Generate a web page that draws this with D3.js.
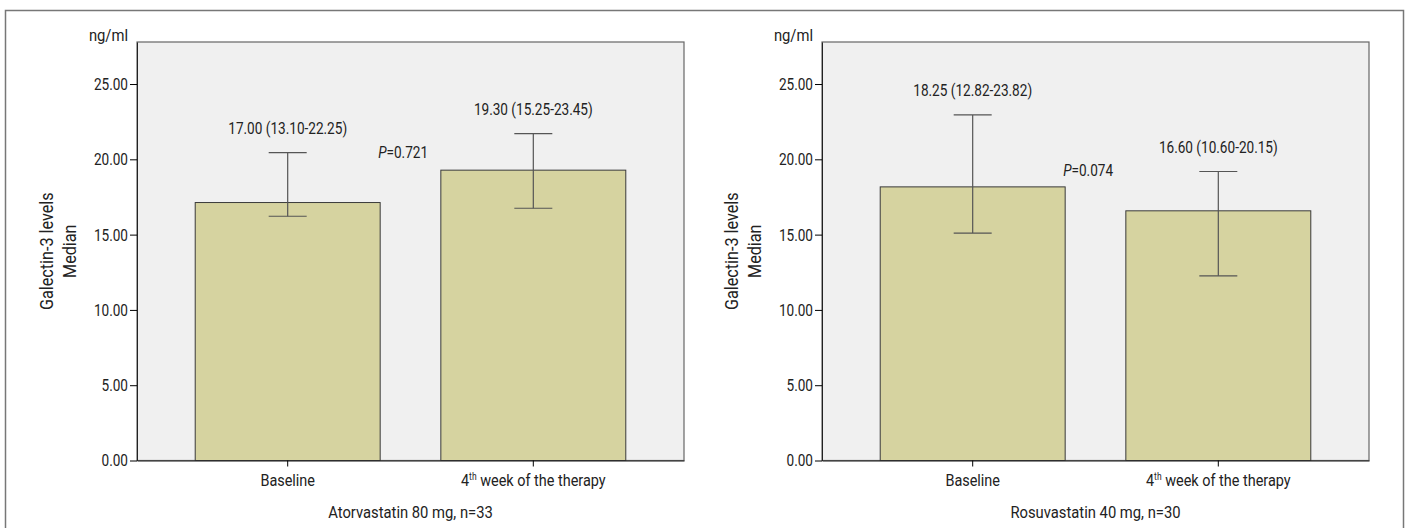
<!DOCTYPE html>
<html>
<head>
<meta charset="utf-8">
<script src="https://cdn.jsdelivr.net/npm/d3@7"></script>
<style>
  body { margin: 0; background: #fff; }
  svg text { font-family: "Roboto", "Liberation Sans", sans-serif; fill: #222; }
</style>
</head>
<body>
<div id="chart"></div>
<script>
// Data
const categories = ["Baseline", "4th week of the therapy"];
const yTicks = [0, 5, 10, 15, 20, 25];

const atorMedians = [17.13, 19.28];
const atorLow = [16.22, 16.75];
const atorHigh = [20.45, 21.71];
const atorLabels = ["17.00 (13.10-22.25)", "19.30 (15.25-23.45)"];
const atorP = "0.721";
const atorPAt = 20.1;
const atorTitle = "Atorvastatin 80 mg, n=33";

const rosuMedians = [18.17, 16.58];
const rosuLow = [15.10, 12.26];
const rosuHigh = [22.95, 19.19];
const rosuLabels = ["18.25 (12.82-23.82)", "16.60 (10.60-20.15)"];
const rosuP = "0.074";
const rosuPAt = 18.9;
const rosuTitle = "Rosuvastatin 40 mg, n=30";

const W = 1409, H = 528;
const plotTop = 42, plotBottom = 460.5, plotWidth = 547;
const yMax = 27.79;
const fs = 17;        // font size
const numSqueeze = 0.8;  // condensed look of the original type (numbers)
const wordSqueeze = 0.87; // words

const svg = d3.select("#chart")
  .append("svg")
    .attr("width", W)
    .attr("height", H);

// squeeze text horizontally to mimic a condensed face (axis texts)
function narrow(sel, s) {
  sel.each(function() {
    const t = d3.select(this);
    const x = +t.attr("x") || 0;
    const tr = t.attr("transform") || "";
    t.attr("x", x / s)
     .attr("transform", `${tr} scale(${s},1)`);
  });
}

// free-standing label: position goes into the transform, then squeeze
function placeText(g, x, y, s) {
  return g.append("text")
    .attr("transform", `translate(${x},${y}) scale(${s},1)`)
    .attr("font-size", fs);
}

// Outer frame (bottom edge runs off the picture)
svg.append("rect")
  .attr("x", 5.5)
  .attr("y", 10.5)
  .attr("width", 1398)
  .attr("height", 540)
  .attr("fill", "none")
  .attr("stroke", "#777")
  .attr("stroke-width", 1.5);

function drawPanel(left, medians, low, high, labels, pValue, pAt, title) {
  const g = svg.append("g");

  const x = d3.scaleBand()
    .domain(categories)
    .range([left, left + plotWidth])
    .paddingInner(0.247)
    .paddingOuter(0.237);

  const y = d3.scaleLinear()
    .domain([0, yMax])
    .range([plotBottom, plotTop]);

  // plot background
  g.append("rect")
    .attr("x", left)
    .attr("y", plotTop)
    .attr("width", plotWidth)
    .attr("height", plotBottom - plotTop)
    .attr("fill", "#f0f0f0")
    .attr("stroke", "#666")
    .attr("stroke-width", 1.2);

  // bars
  g.selectAll(".bar")
    .data(medians)
    .enter()
    .append("rect")
    .attr("class", "bar")
    .attr("x", (d, i) => x(categories[i]))
    .attr("y", d => y(d))
    .attr("width", x.bandwidth())
    .attr("height", d => plotBottom - y(d))
    .attr("fill", "#d6d3a0")
    .attr("stroke", "#3a3a3a")
    .attr("stroke-width", 1);

  // error bars + value labels
  const cap = 19;
  categories.forEach((c, i) => {
    const cx = x(c) + x.bandwidth() / 2;
    const eb = g.append("g").attr("stroke", "#555").attr("stroke-width", 1.2);
    eb.append("line").attr("x1", cx).attr("x2", cx).attr("y1", y(low[i])).attr("y2", y(high[i]));
    eb.append("line").attr("x1", cx - cap).attr("x2", cx + cap).attr("y1", y(high[i])).attr("y2", y(high[i]));
    eb.append("line").attr("x1", cx - cap).attr("x2", cx + cap).attr("y1", y(low[i])).attr("y2", y(low[i]));

    placeText(g, cx, y(high[i]) - 19, numSqueeze)
      .attr("text-anchor", "middle")
      .text(labels[i]);
  });

  // P value next to the first bar
  const pText = placeText(g, x(categories[0]) + x.bandwidth() - 2, y(pAt), numSqueeze);
  pText.append("tspan").attr("font-style", "italic").text("P");
  pText.append("tspan").text("=" + pValue);

  // y axis
  const yAxis = g.append("g")
    .attr("transform", `translate(${left},0)`)
    .call(d3.axisLeft(y).tickValues(yTicks).tickFormat(d3.format(".2f")).tickSize(7).tickPadding(2).tickSizeOuter(0));
  yAxis.select(".domain").attr("stroke", "#222");
  yAxis.selectAll("text").attr("font-size", fs).attr("font-family", null).call(narrow, numSqueeze);

  // x axis
  const xAxis = g.append("g")
    .attr("transform", `translate(0,${plotBottom})`)
    .call(d3.axisBottom(x).tickSize(6).tickPadding(7).tickSizeOuter(0));
  xAxis.select(".domain").attr("stroke", "#222");
  xAxis.selectAll("text")
    .attr("font-size", fs)
    .attr("font-family", null)
    .each(function(d) {
      const m = d.match(/^(\d+)(th)(.*)$/);
      if (!m) return;
      const t = d3.select(this).text("");
      t.append("tspan").text(m[1]);
      t.append("tspan").attr("font-size", 10).attr("dy", -6).text(m[2]);
      t.append("tspan").attr("dy", 6).text(m[3]);
    })
    .call(narrow, 0.85);

  // unit label
  placeText(g, left - 9, plotTop - 1, wordSqueeze)
    .attr("text-anchor", "end")
    .text("ng/ml");

  // y title
  const yt = g.append("text")
    .attr("transform", `translate(${left - 84},${(plotTop + plotBottom) / 2}) rotate(-90) scale(0.9,1)`)
    .attr("text-anchor", "middle")
    .attr("font-size", 18);
  yt.append("tspan").attr("x", 0).attr("dy", 0).text("Galectin-3 levels");
  yt.append("tspan").attr("x", 0).attr("dy", 23).text("Median");

  // x title
  placeText(g, left + plotWidth / 2, 518, wordSqueeze)
    .attr("text-anchor", "middle")
    .text(title);
}

drawPanel(137, atorMedians, atorLow, atorHigh, atorLabels, atorP, atorPAt, atorTitle);
drawPanel(822, rosuMedians, rosuLow, rosuHigh, rosuLabels, rosuP, rosuPAt, rosuTitle);
</script>
</body>
</html>
